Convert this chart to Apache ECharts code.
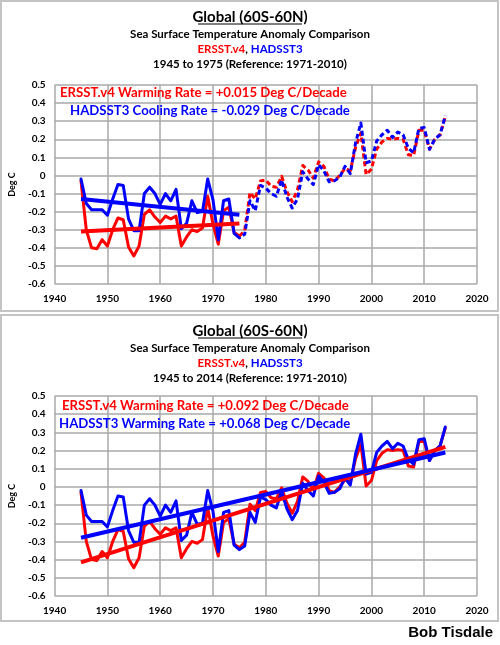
<!DOCTYPE html>
<html>
<head>
<meta charset="utf-8">
<script src="https://cdn.jsdelivr.net/npm/echarts@6/dist/echarts.min.js"></script>
<style>
  html, body { margin: 0; padding: 0; background: #fff; }
  #chart { width: 500px; height: 645px; }
</style>
</head>
<body>
<div id="chart"></div>
<script>
  // annual anomalies, deg C, 1945..2014
  const years = []
  for (let y = 1945; y <= 2014; y++) years.push(y)

  const ersst = [
    -0.03, -0.30, -0.40, -0.405, -0.355, -0.39, -0.30, -0.235, -0.245, -0.395,
    -0.445, -0.39, -0.215, -0.19, -0.23, -0.26, -0.225, -0.24, -0.225, -0.39,
    -0.34, -0.30, -0.31, -0.29, -0.115, -0.27, -0.38, -0.195, -0.175, -0.315,
    -0.335, -0.305, -0.095, -0.13, -0.03, -0.025, -0.06, -0.065, -0.005, -0.09,
    -0.145, -0.08, 0.055, 0.03, -0.015, 0.075, 0.05, -0.02, -0.03, 0.0,
    0.04, 0.025, 0.155, 0.235, 0.005, 0.035, 0.145, 0.185, 0.205, 0.2,
    0.205, 0.2, 0.115, 0.11, 0.25, 0.25, 0.145, 0.2, 0.225, 0.325
  ]
  const hadsst = [
    -0.02, -0.155, -0.19, -0.19, -0.19, -0.22, -0.13, -0.05, -0.055, -0.24,
    -0.305, -0.305, -0.10, -0.065, -0.10, -0.16, -0.10, -0.14, -0.077, -0.295,
    -0.265, -0.14, -0.205, -0.20, -0.02, -0.135, -0.355, -0.14, -0.13, -0.32,
    -0.345, -0.325, -0.14, -0.195, -0.055, -0.07, -0.10, -0.115, -0.025, -0.12,
    -0.18, -0.13, 0.02, -0.02, -0.05, 0.06, 0.025, -0.035, -0.03, -0.01,
    0.05, 0.01, 0.18, 0.29, 0.07, 0.08, 0.19, 0.225, 0.25, 0.21,
    0.24, 0.225, 0.15, 0.125, 0.26, 0.265, 0.145, 0.2, 0.225, 0.33
  ]

  // linear trend end points [year, value]
  const ersstTrendEarly = [[1945, -0.31], [1975, -0.265]]
  const hadsstTrendEarly = [[1945, -0.13], [1975, -0.217]]
  const ersstTrendFull = [[1945, -0.415], [2014, 0.22]]
  const hadsstTrendFull = [[1945, -0.28], [2014, 0.189]]

  const xTicks = [1940, 1950, 1960, 1970, 1980, 1990, 2000, 2010, 2020]
  const yTicks = [-0.6, -0.5, -0.4, -0.3, -0.2, -0.1, 0, 0.1, 0.2, 0.3, 0.4, 0.5]

  const RED = '#ff0000'
  const BLUE = '#0000ff'
  const GRIDC = '#a9a9a9'
  const FONT = 'Lato'

  const pairs = (vals, from, to) =>
    years.map((y, i) => [y, vals[i]]).filter(p => p[0] >= from && p[0] <= to)

  const line = (name, data, color, xi, extra) => Object.assign({
    name, type: 'line', data, xAxisIndex: xi, yAxisIndex: xi,
    showSymbol: false, symbol: 'none', animation: false, silent: true,
    lineStyle: { color, width: 3, cap: 'round', join: 'round' }
  }, extra || {})

  const xAxis = (gi) => ({
    type: 'value', gridIndex: gi,
    min: xTicks[0], max: xTicks[xTicks.length - 1], interval: 10,
    axisLine: { show: false }, axisTick: { show: false },
    axisLabel: {
      color: '#000', fontFamily: FONT, fontWeight: 'bold', fontSize: 10, margin: 10,
      formatter: v => String(v)
    },
    splitLine: { lineStyle: { color: GRIDC, width: 1.5 } }
  })
  const yAxis = (gi) => ({
    type: 'value', gridIndex: gi,
    min: yTicks[0], max: yTicks[yTicks.length - 1], interval: 0.1,
    name: 'Deg C', nameLocation: 'middle', nameRotate: 90, nameGap: 32,
    nameTextStyle: { color: '#000', fontFamily: FONT, fontWeight: 'bold', fontSize: 9 },
    axisLine: { show: false }, axisTick: { show: false },
    axisLabel: {
      color: '#000', fontFamily: FONT, fontWeight: 'bold', fontSize: 10, margin: 9,
      formatter: v => String(Math.round(v * 10) / 10)
    },
    splitLine: { lineStyle: { color: GRIDC, width: 1.5 } }
  })

  // header text block for one panel
  const header = (top, period) => [
    { type: 'text', x: 250, y: top, style: { text: 'Global (60S-60N)', font: 'bold 15px ' + FONT, fill: '#000', align: 'center', verticalAlign: 'middle' } },
    { type: 'line', shape: { x1: 198, y1: top + 7, x2: 302, y2: top + 7 }, style: { stroke: '#000', lineWidth: 1 } },
    { type: 'text', x: 250, y: top + 17, style: { text: 'Sea Surface Temperature Anomaly Comparison', font: 'bold 11.5px ' + FONT, fill: '#000', align: 'center', verticalAlign: 'middle' } },
    { type: 'text', x: 250, y: top + 32, style: {
      text: '{r|ERSST.v4}{k|, }{b|HADSST3}', align: 'center', verticalAlign: 'middle',
      rich: {
        r: { fill: RED, font: 'bold 11.5px ' + FONT },
        k: { fill: '#000', font: 'bold 11.5px ' + FONT },
        b: { fill: BLUE, font: 'bold 11.5px ' + FONT }
      }
    } },
    { type: 'text', x: 250, y: top + 47, style: { text: period + ' (Reference: 1971-2010)', font: 'bold 11.5px ' + FONT, fill: '#000', align: 'center', verticalAlign: 'middle' } }
  ]
  const note = (x, y, text, color) => ({
    type: 'text', x, y, z: 10,
    style: { text, font: 'bold 13.2px ' + FONT, fill: color, align: 'left', verticalAlign: 'middle' }
  })

  const chart = echarts.init(document.getElementById('chart'), null, { renderer: 'canvas' })
  chart.setOption({
    backgroundColor: '#fff',
    animation: false,
    grid: [
      { left: 54, right: 23, top: 85, height: 199 },
      { left: 54, right: 23, top: 396, height: 200 }
    ],
    xAxis: [xAxis(0), xAxis(1)],
    yAxis: [yAxis(0), yAxis(1)],
    series: [
      // 1945 to 1975
      line('ERSST.v4', pairs(ersst, 1945, 1975), RED, 0),
      line('HADSST3', pairs(hadsst, 1945, 1975), BLUE, 0),
      line('ERSST.v4 later', pairs(ersst, 1975, 2014), RED, 0, {
        lineStyle: { color: RED, width: 3, type: [5, 3], join: 'round' }
      }),
      line('HADSST3 later', pairs(hadsst, 1975, 2014), BLUE, 0, {
        lineStyle: { color: BLUE, width: 3, type: [5, 3], dashOffset: 4, join: 'round' }
      }),
      line('ERSST.v4 trend', ersstTrendEarly, RED, 0, { lineStyle: { color: RED, width: 4 } }),
      line('HADSST3 trend', hadsstTrendEarly, BLUE, 0, { lineStyle: { color: BLUE, width: 4 } }),
      // 1945 to 2014
      line('ERSST.v4', pairs(ersst, 1945, 2014), RED, 1),
      line('HADSST3', pairs(hadsst, 1945, 2014), BLUE, 1),
      line('ERSST.v4 trend', ersstTrendFull, RED, 1, { lineStyle: { color: RED, width: 4 } }),
      line('HADSST3 trend', hadsstTrendFull, BLUE, 1, { lineStyle: { color: BLUE, width: 4 } })
    ],
    graphic: [
      { type: 'rect', shape: { x: 1, y: 1, width: 497, height: 310 }, style: { fill: 'none', stroke: '#c4c4c4', lineWidth: 2 } },
      { type: 'rect', shape: { x: 1, y: 315, width: 497, height: 306 }, style: { fill: 'none', stroke: '#c4c4c4', lineWidth: 2 } },
      ...header(17, '1945 to 1975'),
      ...header(331, '1945 to 2014'),
      note(60, 93, 'ERSST.v4 Warming Rate = +0.015 Deg C/Decade', RED),
      note(70, 111, 'HADSST3 Cooling Rate = -0.029 Deg C/Decade', BLUE),
      note(62, 406, 'ERSST.v4 Warming Rate = +0.092 Deg C/Decade', RED),
      note(59, 424, 'HADSST3 Warming Rate = +0.068 Deg C/Decade', BLUE),
      { type: 'text', x: 493, y: 633, style: { text: 'Bob Tisdale', font: 'bold 15px "Liberation Sans"', fill: '#000', align: 'right', verticalAlign: 'middle' } }
    ]
  })
</script>
</body>
</html>
